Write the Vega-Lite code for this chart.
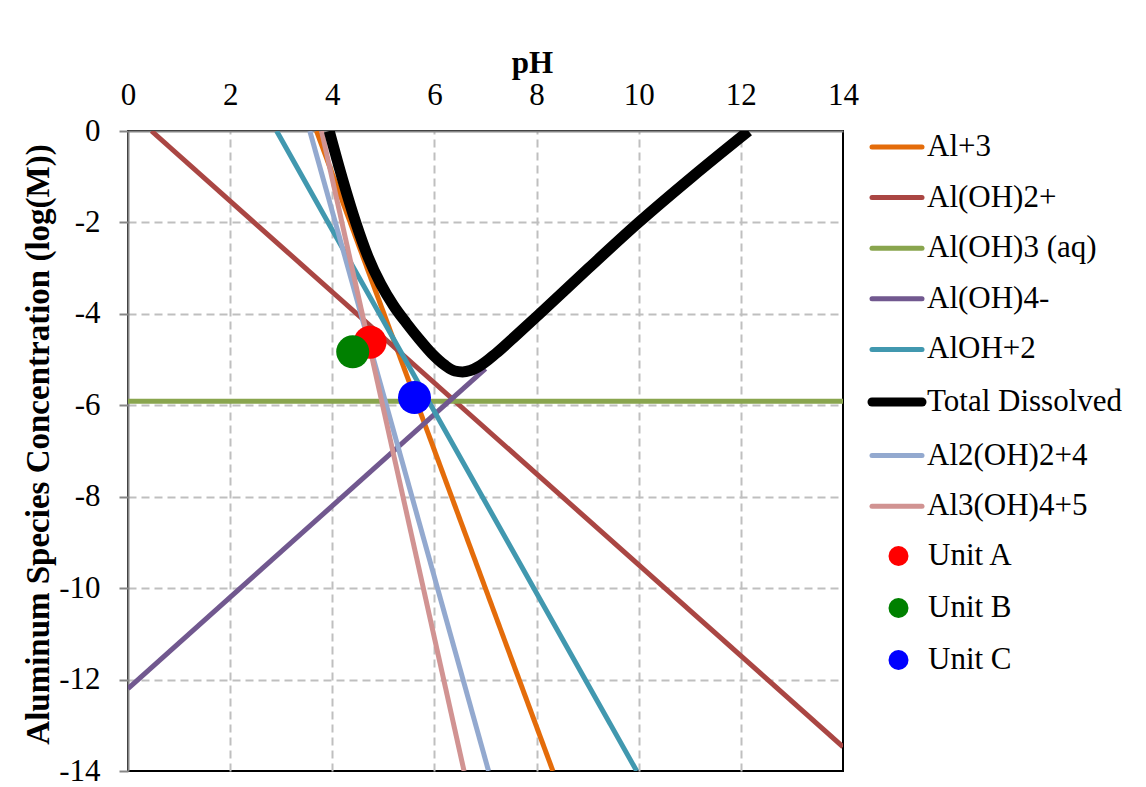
{
  "$schema": "https://vega.github.io/schema/vega-lite/v6.json",
  "width": 715,
  "height": 640,
  "autosize": "none",
  "padding": {"left": 128, "top": 131, "right": 303, "bottom": 16},
  "background": "white",
  "config": {
    "font": "Liberation Serif",
    "view": {"stroke": "black", "strokeWidth": 2},
    "axis": {"labelFont": "Liberation Serif", "titleFont": "Liberation Serif", "labelColor": "black", "titleColor": "black"},
    "legend": {"labelFont": "Liberation Serif", "labelColor": "black", "labelLimit": 0}
  },
  "datasets": {
    "lines": [
      {"series": "Al+3", "pH": 3.69, "logC": 0},
      {"series": "Al+3", "pH": 8.32, "logC": -14},
      {"series": "Al(OH)2+", "pH": 0.46, "logC": 0},
      {"series": "Al(OH)2+", "pH": 14, "logC": -13.47},
      {"series": "Al(OH)3 (aq)", "pH": 0, "logC": -5.91},
      {"series": "Al(OH)3 (aq)", "pH": 14, "logC": -5.91},
      {"series": "Al(OH)4-", "pH": 0, "logC": -12.2},
      {"series": "Al(OH)4-", "pH": 7.0, "logC": -5.2},
      {"series": "AlOH+2", "pH": 2.91, "logC": 0},
      {"series": "AlOH+2", "pH": 9.96, "logC": -14},
      {"series": "Al2(OH)2+4", "pH": 3.56, "logC": 0},
      {"series": "Al2(OH)2+4", "pH": 7.06, "logC": -14},
      {"series": "Al3(OH)4+5", "pH": 3.79, "logC": 0},
      {"series": "Al3(OH)4+5", "pH": 6.58, "logC": -14},
      {"series": "Total Dissolved", "pH": 3.94, "logC": 0},
      {"series": "Total Dissolved", "pH": 4.2, "logC": -1.05},
      {"series": "Total Dissolved", "pH": 4.46, "logC": -2.0},
      {"series": "Total Dissolved", "pH": 4.7, "logC": -2.75},
      {"series": "Total Dissolved", "pH": 4.95, "logC": -3.35},
      {"series": "Total Dissolved", "pH": 5.2, "logC": -3.82},
      {"series": "Total Dissolved", "pH": 5.45, "logC": -4.2},
      {"series": "Total Dissolved", "pH": 5.7, "logC": -4.55},
      {"series": "Total Dissolved", "pH": 5.95, "logC": -4.87},
      {"series": "Total Dissolved", "pH": 6.2, "logC": -5.12},
      {"series": "Total Dissolved", "pH": 6.4, "logC": -5.25},
      {"series": "Total Dissolved", "pH": 6.55, "logC": -5.27},
      {"series": "Total Dissolved", "pH": 6.7, "logC": -5.24},
      {"series": "Total Dissolved", "pH": 6.9, "logC": -5.13},
      {"series": "Total Dissolved", "pH": 7.2, "logC": -4.87},
      {"series": "Total Dissolved", "pH": 7.6, "logC": -4.47},
      {"series": "Total Dissolved", "pH": 8.03, "logC": -4.03},
      {"series": "Total Dissolved", "pH": 9.0, "logC": -3.02},
      {"series": "Total Dissolved", "pH": 10.0, "logC": -2.0},
      {"series": "Total Dissolved", "pH": 11.05, "logC": -1.0},
      {"series": "Total Dissolved", "pH": 12.15, "logC": 0}
    ],
    "units": [
      {"unit": "Unit A", "pH": 4.74, "logC": -4.62},
      {"unit": "Unit B", "pH": 4.4, "logC": -4.83},
      {"unit": "Unit C", "pH": 5.61, "logC": -5.83}
    ]
  },
  "encoding": {
    "x": {
      "field": "pH", "type": "quantitative",
      "scale": {"domain": [0, 14], "nice": false, "zero": false},
      "axis": {
        "orient": "top", "values": [0, 2, 4, 6, 8, 10, 12, 14],
        "title": "pH", "titleFontSize": 31, "titleFontWeight": "bold",
        "titleX": 404, "titleY": -59, "titleAlign": "center", "titleBaseline": "alphabetic",
        "labelFontSize": 31, "labelPadding": 27, "labelBaseline": "alphabetic",
        "labelFlush": false, "labelOverlap": false,
        "ticks": false, "tickSize": 0,
        "domainColor": "#868686", "domainWidth": 2,
        "grid": true, "gridColor": "#BFBFBF", "gridDash": [8, 5], "gridWidth": 2,
        "gridOpacity": {"condition": {"test": "datum.value == 0 || datum.value == 14", "value": 0}, "value": 1}
      }
    },
    "y": {
      "field": "logC", "type": "quantitative",
      "scale": {"domain": [-14, 0], "nice": false, "zero": false},
      "axis": {
        "values": [0, -2, -4, -6, -8, -10, -12, -14],
        "title": "Aluminum Species Concentration (log(M))", "titleFontSize": 33, "titleFontWeight": "bold",
        "titleX": -80, "titleY": 313, "titleAlign": "center", "titleBaseline": "alphabetic", "titleAngle": -90,
        "labelFontSize": 31, "labelPadding": 19, "labelExpr": "'' + datum.value",
        "labelFlush": false, "labelOverlap": false,
        "tickSize": 9, "tickColor": "#868686", "tickWidth": 2,
        "domainColor": "#868686", "domainWidth": 2,
        "grid": true, "gridColor": "#BFBFBF", "gridDash": [8, 5], "gridWidth": 2,
        "gridOpacity": {"condition": {"test": "datum.value == 0 || datum.value == -14", "value": 0}, "value": 1}
      }
    }
  },
  "layer": [
    {
      "data": {"name": "lines"},
      "transform": [{"filter": "datum.series !== 'Total Dissolved'"}],
      "mark": {"type": "line", "strokeWidth": 5, "clip": true},
      "encoding": {
        "color": {
          "field": "series", "type": "nominal",
          "scale": {
            "domain": ["Al+3", "Al(OH)2+", "Al(OH)3 (aq)", "Al(OH)4-", "AlOH+2", "Total Dissolved", "Al2(OH)2+4", "Al3(OH)4+5"],
            "range": ["#E46C0A", "#AA4643", "#89A54E", "#71588F", "#4198AF", "#000000", "#93A9CF", "#D19392"]
          },
          "legend": {
            "orient": "none", "legendX": 753.5, "legendY": 0.5, "title": null,
            "symbolType": "stroke", "symbolSize": 2500, "symbolStrokeWidth": 5,
            "labelFontSize": 31, "labelOffset": 14.5, "rowPadding": 18.6, "padding": 0, "labelLimit": 0,
            "encode": {"symbols": {"update": {"strokeWidth": {"signal": "datum.value === 'Total Dissolved' ? 9 : 5"}, "strokeCap": {"value": "round"}}}}
          }
        }
      }
    },
    {
      "data": {"name": "lines"},
      "transform": [{"filter": "datum.series === 'Total Dissolved'"}],
      "mark": {"type": "line", "strokeWidth": 11, "clip": true, "interpolate": "monotone"},
      "encoding": {"color": {"field": "series", "type": "nominal"}}
    },
    {
      "data": {"name": "units"},
      "mark": {"type": "circle", "size": 1089, "opacity": 1},
      "encoding": {
        "fill": {
          "field": "unit", "type": "nominal",
          "scale": {"domain": ["Unit A", "Unit B", "Unit C"], "range": ["#FF0000", "#008000", "#0000FF"]},
          "legend": {
            "orient": "none", "legendX": 755, "legendY": 409.5, "title": null,
            "symbolType": "circle", "symbolSize": 400, "symbolOpacity": 1, "symbolStrokeWidth": 0,
            "labelFontSize": 31, "labelOffset": 14, "rowPadding": 20, "padding": 0, "labelLimit": 0
          }
        }
      }
    }
  ]
}
